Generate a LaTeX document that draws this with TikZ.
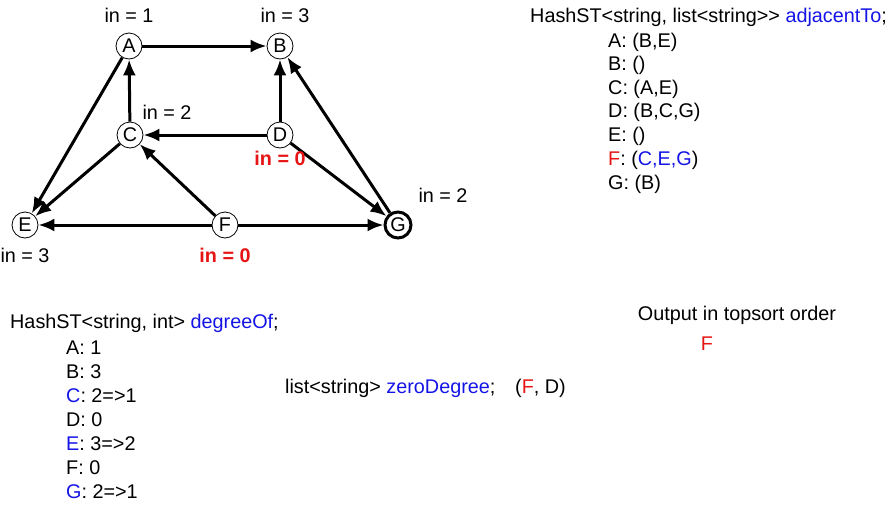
\documentclass[tikz,border=0pt]{standalone}
\usepackage{fontspec}
\setmainfont{Liberation Sans}
\usetikzlibrary{arrows.meta}
\definecolor{bl}{RGB}{20,20,230}
\definecolor{rd}{RGB}{230,20,20}
\begin{document}
\begin{tikzpicture}[x=1pt,y=-1pt,font=\fontsize{19.8}{22}\selectfont,
 vert/.style={circle,draw,thick,minimum size=26pt,inner sep=0pt,fill=white},
 edge/.style={line width=3pt,-{Latex[length=16pt,width=13pt]}},
 lab/.style={anchor=west,inner sep=0pt}]
\useasboundingbox (0,0) rectangle (892,512);
\node[vert] (A) at (129,46) {A};
\node[vert] (B) at (280,46) {B};
\node[vert] (C) at (130,135) {C};
\node[vert] (D) at (280,135) {D};
\node[vert] (E) at (25,225) {E};
\node[vert] (F) at (225,225) {F};
\node[vert,line width=3pt] (G) at (398,225) {G};
\draw[edge] (A)--(B);
\draw[edge] (A)--(E);
\draw[edge] (C)--(A);
\draw[edge] (C)--(E);
\draw[edge] (D)--(C);
\draw[edge] (D)--(B);
\draw[edge] (D)--(G);
\draw[edge] (F)--(C);
\draw[edge] (F)--(E);
\draw[edge] (F)--(G);
\draw[edge] (G)--(B);
\node (la) at (129,15) {in = 1};
\node (lb) at (285,15) {in = 3};
\node (lc) at (167,112) {in = 2};
\node[text=rd,font=\fontsize{19.8}{22}\selectfont\bfseries] (ld) at (280,158) {in = 0};
\node (lg) at (443,195) {in = 2};
\node (le) at (25,255) {in = 3};
\node[text=rd,font=\fontsize{19.8}{22}\selectfont\bfseries] (lf) at (225,255) {in = 0};
\node[lab] (h1) at (530,17) {HashST<string, list<string>{}> \textcolor{bl}{adjacentTo};};
\node[lab] (a1) at (608,42) {A: (B,E)};
\node[lab] (a2) at (608,65) {B: ()};
\node[lab] (a3) at (608,89) {C: (A,E)};
\node[lab] (a4) at (608,112) {D: (B,C,G)};
\node[lab] (a5) at (608,136) {E: ()};
\node[lab] (a6) at (608,160) {\textcolor{rd}{F}: (\textcolor{bl}{C,E,G})};
\node[lab] (a7) at (608,184) {G: (B)};
\node[lab] (h2) at (10,323) {HashST<string, int> \textcolor{bl}{degreeOf};};
\node[lab] (d1) at (66,348) {A: 1};
\node[lab] (d2) at (66,372) {B: 3};
\node[lab] (d3) at (66,396) {\textcolor{bl}{C}: 2=>1};
\node[lab] (d4) at (66,420) {D: 0};
\node[lab] (d5) at (66,444) {\textcolor{bl}{E}: 3=>2};
\node[lab] (d6) at (66,468) {F: 0};
\node[lab] (d7) at (66,492) {\textcolor{bl}{G}: 2=>1};
\node[lab] (z) at (285,388) {list<string> \textcolor{bl}{zeroDegree};\quad (\textcolor{rd}{F}, D)};
\node (o) at (737,315) {Output in topsort order};
\node[text=rd] (of) at (707,344) {F};
\end{tikzpicture}
\end{document}
